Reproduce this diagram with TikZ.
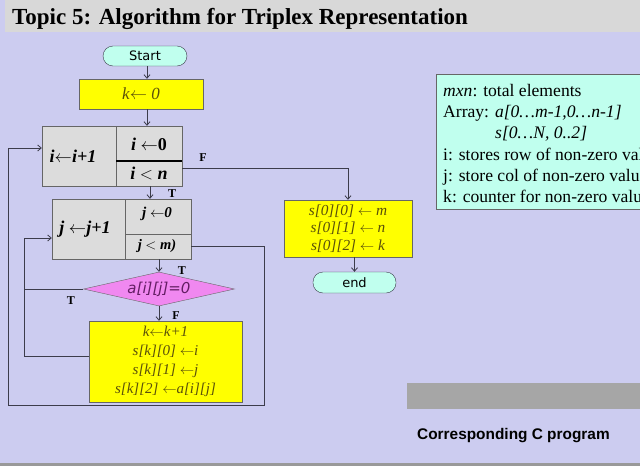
\documentclass[tikz,border=0pt]{standalone}
\usepackage{fontspec}
\setmainfont{Liberation Serif}
\setsansfont{DejaVu Sans}
\newfontfamily\arialf{Liberation Sans}
\usetikzlibrary{arrows.meta,shapes.geometric}
\definecolor{bgc}{RGB}{204,204,240}
\definecolor{titlegray}{RGB}{216,216,216}
\definecolor{aqua}{RGB}{192,255,238}
\definecolor{yel}{RGB}{255,255,0}
\definecolor{boxgray}{RGB}{220,220,220}
\definecolor{pinkc}{RGB}{240,136,240}
\definecolor{bargray}{RGB}{166,166,166}
\definecolor{linec}{RGB}{60,60,75}
\definecolor{olive}{RGB}{90,80,10}
\definecolor{purp}{RGB}{100,30,100}
\tikzset{
  conn/.style={draw=linec, line width=0.8pt},
  arr/.style={conn, -{Straight Barb[length=3.5pt,width=6pt]}},
  term/.style={draw=linec, fill=aqua, rounded corners=10pt, inner sep=0pt, font=\sffamily\fontsize{13}{15}\selectfont},
  ybox/.style={draw=black!60, fill=yel, inner sep=0pt, text=olive},
  gbox/.style={draw=black!60, fill=boxgray, inner sep=0pt},
  lbl/.style={font=\bfseries\fontsize{12}{14}\selectfont, inner sep=0pt},
  itxt/.style={inner sep=0pt, anchor=base west, font=\fontsize{17.6}{20}\selectfont},
}
\begin{document}
\begin{tikzpicture}[x=1pt,y=-1pt]
\useasboundingbox (0,0) rectangle (640,466);
\clip (0,0) rectangle (640,466);
\fill[bgc] (0,0) rectangle (640,466);
\fill[titlegray] (5,0) rectangle (640,32);
\fill[black!40] (0,463) rectangle (640,466);
\node[anchor=base west, inner sep=0pt, font=\bfseries\fontsize{23}{25}\selectfont] (title) at (12,24) {Topic 5: Algorithm for Triplex Representation};

% terminals and boxes
\node[term, minimum width=84pt, minimum height=20pt] (start) at (145,56) {Start};
\node[ybox, minimum width=124pt, minimum height=30pt, font=\itshape\fontsize{17}{19}\selectfont] (k0) at (141,94) {k$\leftarrow$ 0};

\node[gbox, minimum width=140pt, minimum height=60pt] (ibox) at (112,156) {};
\draw[black!60, line width=0.8pt] (116,126) -- (116,186);
\draw[black, line width=1.3pt] (116,161) -- (182,161);
\node[inner sep=0pt, font=\bfseries\itshape\fontsize{18}{20}\selectfont] (iinc) at (73,156) {i$\leftarrow$i+1};
\node[inner sep=0pt, font=\bfseries\itshape\fontsize{18}{20}\selectfont] (iini) at (149,144) {i $\leftarrow$\textup{0}};
\node[inner sep=0pt, font=\bfseries\itshape\fontsize{18}{20}\selectfont] (icnd) at (149,173) {i $<$ n};

\node[gbox, minimum width=139pt, minimum height=60pt] (jbox) at (121.5,229) {};
\draw[black!60, line width=0.8pt] (125,199) -- (125,259);
\draw[black!60, line width=0.8pt] (125,234) -- (191,234);
\node[inner sep=0pt, font=\bfseries\itshape\fontsize{18}{20}\selectfont] (jinc) at (85,229) {j $\leftarrow$j+1};
\node[inner sep=0pt, font=\bfseries\itshape\fontsize{15}{17}\selectfont] (jini) at (157,214) {j $\leftarrow$0};
\node[inner sep=0pt, font=\bfseries\itshape\fontsize{14.5}{16}\selectfont] (jcnd) at (157,246) {j $<$ m)};

\node[diamond, draw=black!60, fill=pinkc, aspect=4.44, minimum width=151pt, minimum height=34pt, inner sep=0pt, text=purp, font=\sffamily\itshape\fontsize{15}{17}\selectfont] (dia) at (159,289) {a[i][j]=0};

\node[ybox, minimum width=153pt, minimum height=81pt, align=center, font=\itshape\fontsize{15}{19}\selectfont] (yb) at (165.5,361.5) {k$\leftarrow$k+1\\ s[k][0] $\leftarrow$i\\ s[k][1] $\leftarrow$j\\ s[k][2] $\leftarrow$a[i][j]};

\node[ybox, minimum width=128pt, minimum height=57pt, align=center, font=\itshape\fontsize{15.3}{17.5}\selectfont] (s0) at (348,228.5) {s[0][0] $\leftarrow$ m\\ s[0][1] $\leftarrow$ n\\ s[0][2] $\leftarrow$ k};
\node[term, minimum width=83pt, minimum height=21pt] (endn) at (354.5,282.5) {end};

% info box (runs past the right edge, as in the reference)
\node[draw=black!60, fill=aqua, minimum width=230pt, minimum height=135pt, inner sep=0pt, anchor=north west] (info) at (436,74) {};
\node[itxt] (l1) at (443,96) {\textit{mxn}: total elements};
\node[itxt] (l2) at (443,117) {Array: \textit{a[0\ldots m-1,0\ldots n-1]}};
\node[itxt] (l3) at (495,138) {\textit{s[0\ldots N, 0..2]}};
\node[itxt] (l4) at (443,160) {i: stores row of non-zero values};
\node[itxt] (l5) at (443,181) {j: store col of non-zero values};
\node[itxt] (l6) at (443,202) {k: counter for non-zero values};

% bottom right
\node[fill=bargray, minimum width=240pt, minimum height=26pt, inner sep=0pt, anchor=north west] (bar) at (407,383) {};
\node[anchor=base west, inner sep=0pt, font=\arialf\bfseries\fontsize{15.4}{17}\selectfont] (cprog) at (417,439) {Corresponding C program};

% connectors
\draw[arr] (start.south -| 147,0) -- (k0.north -| 147,0);
\draw[arr] (k0.south -| 147,0) -- (ibox.north -| 147,0);
\draw[arr] ([xshift=38pt]ibox.south) -- ([xshift=38pt]ibox.south |- jbox.north);
\draw[arr] ([yshift=-12pt]ibox.east) -| (s0.north);
\draw[arr] (jbox.south -| dia.north) -- (dia.north);
\draw[arr] (dia.south) -- (yb.north -| dia.south);
\coordinate (jl) at (24,356);
\draw[arr] (yb.west |- jl) -- (jl) |- ([yshift=-9pt]jbox.west);
\draw[conn] (dia.west) -- (dia.west -| jl);
\coordinate (ol1) at (264,405);
\coordinate (ol2) at (8,405);
\draw[arr] ([yshift=-17pt]jbox.east) -| (ol1) -- (ol2) |- ([yshift=8pt]ibox.west);
\draw[arr] (s0.south -| endn.north) -- (endn.north);

% branch labels
\node[lbl] (fi) at (203,158) {F};
\node[lbl] (ti) at (172,194) {T};
\node[lbl] (td) at (182,271) {T};
\node[lbl] (tl) at (71,301) {T};
\node[lbl] (fd) at (176,316) {F};
\end{tikzpicture}
\end{document}
